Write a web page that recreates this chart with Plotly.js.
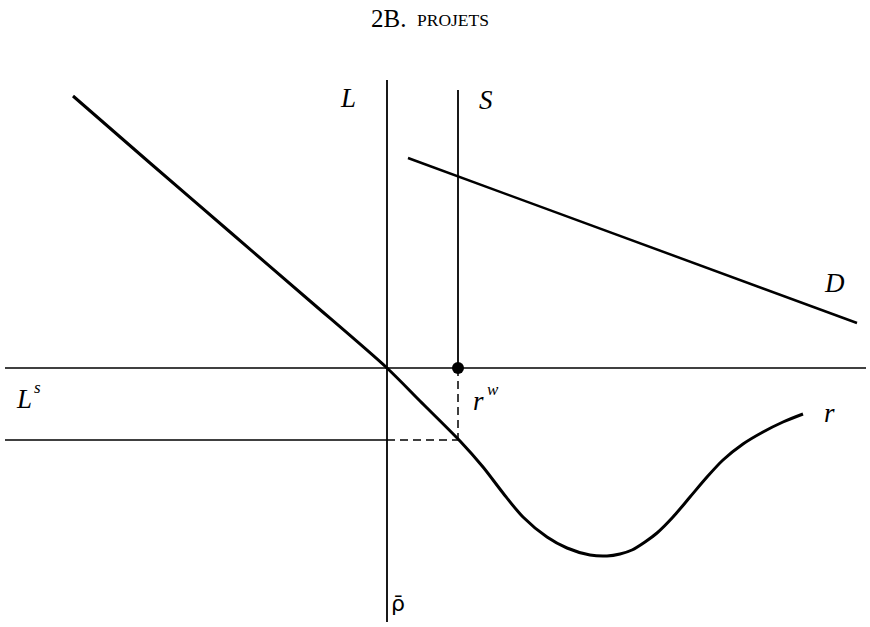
<!DOCTYPE html>
<html>
<head>
<meta charset="utf-8">
<script src="https://cdn.plot.ly/plotly-3.0.1.min.js"></script>
<style>html,body{margin:0;padding:0;background:#fff;}#chart{width:870px;height:627px;}</style>
</head>
<body>
<div id="chart"></div>
<script>
// Diagram coordinates (y grows downward)
const horizAxisX = [5, 866];
const horizAxisY = [368, 368];
const lowerSolidX = [5, 387];
const lowerSolidY = [440, 440];
const lowerDashX = [387, 458];
const lowerDashY = [440, 440];
const lAxisX = [387, 387];
const lAxisY = [80, 622];
const sSolidX = [458, 458];
const sSolidY = [90, 368];
const sDashX = [458, 458];
const sDashY = [368, 440];
const pointX = [458];
const pointY = [368];
const demandX = [408, 857];
const demandY = [158, 323];
const curveX = [73, 150, 230, 310, 387, 420, 460, 483, 503, 523, 547, 567, 590, 607, 620, 632, 645, 657, 673, 690, 707, 723, 743, 763, 783, 803];
const curveY = [96, 163, 232, 301, 368, 401, 441, 467, 493, 517, 537, 548, 555, 556, 554, 550, 542, 533, 517, 497, 477, 460, 444, 432, 422, 414];

// Labels: main letters and their superscripts
const labelText = ['L', 'S', 'D', 'L', 'r', 'r'];
const labelX = [348, 486, 834, 24, 478, 829];
const labelY = [98, 100, 283, 399, 401, 413];
const supText = ['s', 'w'];
const supX = [37, 493];
const supY = [387, 389];
const titleText = ['2B.', 'PROJETS'];
const titleX = [388, 453];
const titleY = [18, 20];

const black = '#000';
function seg(x, y, w, dash) {
  return {x: x, y: y, mode: 'lines', line: {color: black, width: w, dash: dash || 'solid'}, hoverinfo: 'skip', showlegend: false};
}
const traces = [
  seg(horizAxisX, horizAxisY, 1.5),
  seg(lowerSolidX, lowerSolidY, 1.5),
  seg(lowerDashX, lowerDashY, 1.5, '8px,5px'),
  seg(lAxisX, lAxisY, 1.8),
  seg(sSolidX, sSolidY, 1.8),
  seg(sDashX, sDashY, 1.5, '8px,5px'),
  seg(demandX, demandY, 2.5),
  {x: curveX, y: curveY, mode: 'lines', line: {color: black, width: 3, shape: 'spline', smoothing: 0.8}, hoverinfo: 'skip', showlegend: false},
  {x: pointX, y: pointY, mode: 'markers', marker: {color: black, size: 12}, hoverinfo: 'skip', showlegend: false}
];

function ann(x, y, text, size, family, italic) {
  return {x: x, y: y, xref: 'x', yref: 'y', text: text, showarrow: false,
          font: {family: family, size: size, color: black, style: italic ? 'italic' : 'normal'}};
}
const annotations = [];
labelText.forEach((t, i) => annotations.push(ann(labelX[i], labelY[i], t, 27, 'Liberation Serif', true)));
supText.forEach((t, i) => annotations.push(ann(supX[i], supY[i], t, 17, 'Liberation Serif', true)));
annotations.push(ann(398, 603, 'ρ\u0304', 22, 'DejaVu Sans', false));
annotations.push(ann(titleX[0], titleY[0], titleText[0], 25, 'Liberation Serif', false));
annotations.push(ann(titleX[1], titleY[1], titleText[1], 17.5, 'Liberation Serif', false));

const layout = {
  width: 870, height: 627,
  margin: {l: 0, r: 0, t: 0, b: 0},
  paper_bgcolor: '#fff', plot_bgcolor: '#fff',
  xaxis: {range: [0, 870], visible: false, fixedrange: true},
  yaxis: {range: [627, 0], visible: false, fixedrange: true},
  annotations: annotations,
  showlegend: false
};
Plotly.newPlot('chart', traces, layout, {staticPlot: true});
</script>
</body>
</html>
